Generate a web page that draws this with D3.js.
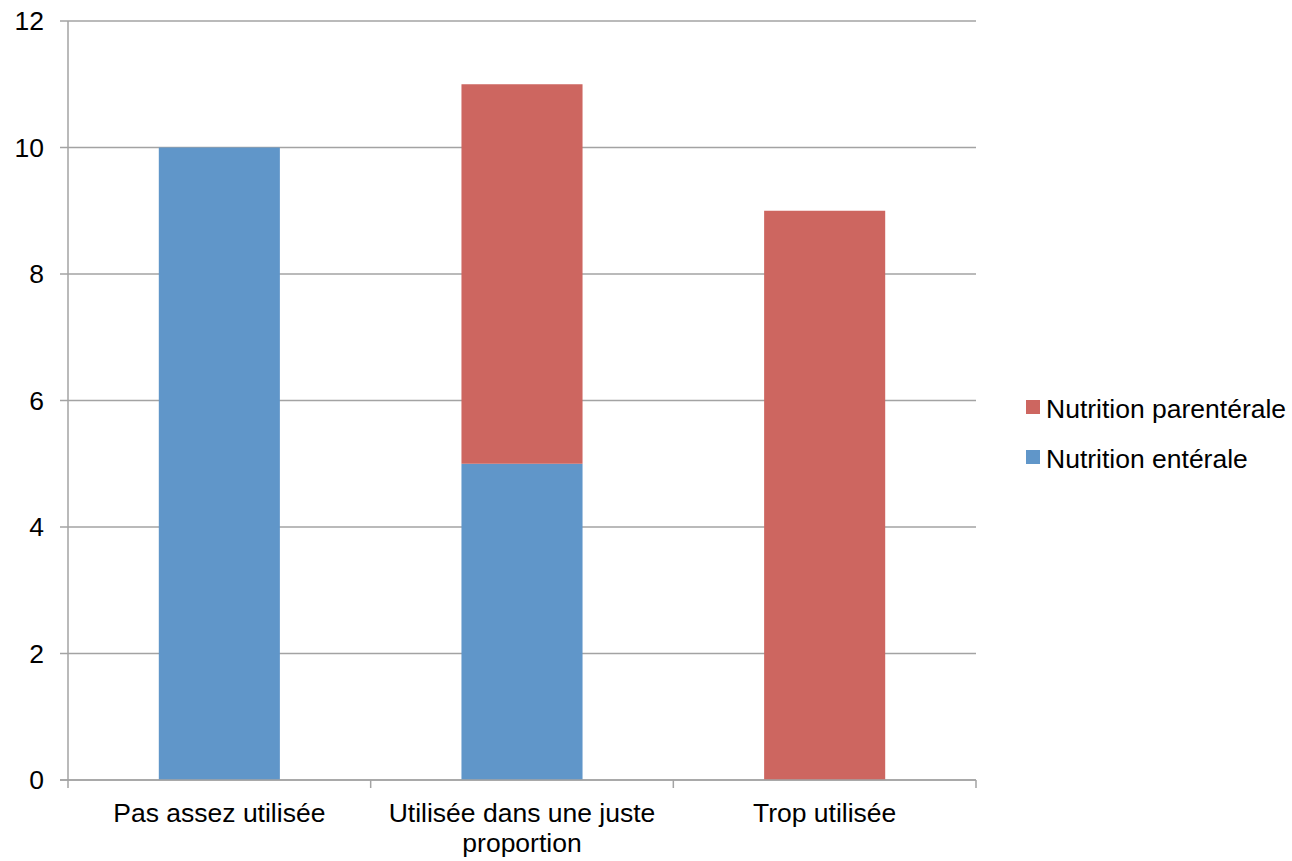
<!DOCTYPE html>
<html>
<head>
<meta charset="utf-8">
<script src="https://cdn.jsdelivr.net/npm/d3@7"></script>
<style>
  html, body { margin: 0; padding: 0; background: #fff; }
  svg { display: block; font-family: "Liberation Sans", Arial, sans-serif; }
</style>
</head>
<body>
<svg id="chart" width="1292" height="861"></svg>
<script>
// Categories (x axis) and stacked series values
const categories = ["Pas assez utilisée", "Utilisée dans une juste proportion", "Trop utilisée"];
const categoryLines = [["Pas assez utilisée"], ["Utilisée dans une juste", "proportion"], ["Trop utilisée"]];
const seriesNames = ["Nutrition entérale", "Nutrition parentérale"];
const enterale = [10, 5, 0];
const parenterale = [0, 6, 9];
const yTicks = [0, 2, 4, 6, 8, 10, 12];
const colors = ["#6096C9", "#CD6660"];

const svg = d3.select("#chart");
const margin = { left: 68, right: 316, top: 21, bottom: 81 };
const W = 1292, H = 861;
const plotW = W - margin.left - margin.right;
const plotH = H - margin.top - margin.bottom;
const fontSize = 26.5;

const x = d3.scaleBand().domain(categories).range([0, plotW]).paddingInner(0.6).paddingOuter(0.3);
const xBand = d3.scaleBand().domain(categories).range([0, plotW]);
const y = d3.scaleLinear().domain([0, 12]).range([plotH, 0]);

const g = svg.append("g").attr("transform", `translate(${margin.left},${margin.top})`);

// Horizontal gridlines with tick marks extending to the left
const grid = g.append("g");
yTicks.forEach(t => {
  grid.append("line")
    .attr("x1", -8).attr("x2", plotW)
    .attr("y1", y(t)).attr("y2", y(t))
    .attr("stroke", "#A3A3A3").attr("stroke-width", 1.5);
});

// Stack the two series
const rows = categories.map((c, i) => ({ cat: c, enterale: enterale[i], parenterale: parenterale[i] }));
const stack = d3.stack().keys(["enterale", "parenterale"]);
const stacked = stack(rows);

stacked.forEach((layer, li) => {
  g.append("g").selectAll("rect")
    .data(layer.filter(d => d[1] - d[0] > 0))
    .join("rect")
    .attr("x", d => x(d.data.cat))
    .attr("width", x.bandwidth())
    .attr("y", d => y(d[1]))
    .attr("height", d => y(d[0]) - y(d[1]))
    .attr("fill", colors[li]);
});

// Y axis line
g.append("line").attr("x1", 0).attr("x2", 0).attr("y1", 0).attr("y2", plotH)
  .attr("stroke", "#A3A3A3").attr("stroke-width", 1.5);

// X axis line with tick marks at category boundaries
g.append("line").attr("x1", -8).attr("x2", plotW).attr("y1", plotH).attr("y2", plotH)
  .attr("stroke", "#A3A3A3").attr("stroke-width", 1.5);
const boundaries = categories.map(c => xBand(c)).concat([plotW]);
boundaries.forEach(bx => {
  g.append("line").attr("x1", bx).attr("x2", bx).attr("y1", plotH).attr("y2", plotH + 8)
    .attr("stroke", "#A3A3A3").attr("stroke-width", 1.5);
});

// Y tick labels
yTicks.forEach(t => {
  g.append("text")
    .attr("x", -24).attr("y", y(t))
    .attr("dy", "0.35em")
    .attr("text-anchor", "end")
    .attr("font-size", fontSize)
    .attr("fill", "#000")
    .text(t);
});

// X category labels (wrapped)
categories.forEach((c, i) => {
  const cx = xBand(c) + xBand.bandwidth() / 2;
  const t = g.append("text")
    .attr("text-anchor", "middle")
    .attr("font-size", fontSize)
    .attr("fill", "#000");
  categoryLines[i].forEach((line, li) => {
    t.append("tspan").attr("x", cx).attr("y", plotH + 42 + li * 30).text(line);
  });
});

// Legend (parenterale listed first, as stacked on top)
const legendItems = [
  { name: seriesNames[1], color: colors[1] },
  { name: seriesNames[0], color: colors[0] }
];
const legend = svg.append("g").attr("transform", "translate(1026,400)");
legendItems.forEach((item, i) => {
  const row = legend.append("g").attr("transform", `translate(0,${i * 50})`);
  row.append("rect").attr("width", 14).attr("height", 14).attr("fill", item.color);
  row.append("text").attr("x", 20).attr("y", 18)
    .attr("font-size", fontSize).attr("fill", "#000").text(item.name);
});
</script>
</body>
</html>
